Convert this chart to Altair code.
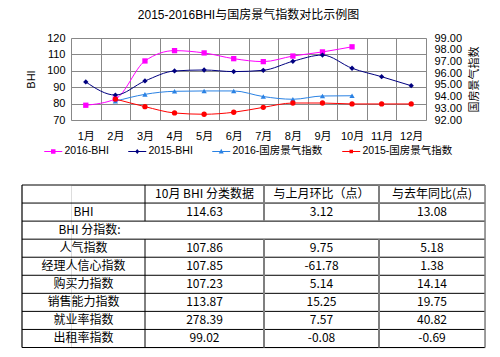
import altair as alt
import pandas as pd

# ---------------- data ----------------
months = ["1月", "2月", "3月", "4月", "5月", "6月", "7月", "8月", "9月", "10月", "11月", "12月"]
bhi_2016 = [79.0, 82.8, 106.0, 112.3, 110.9, 107.4, 105.6, 109.0, 111.51, 114.63, None, None]
bhi_2015 = [93.2, 85.2, 93.8, 99.9, 100.5, 99.5, 100.3, 105.8, 109.6, 101.55, 96.4, 90.9]
gf_2016 = [None, 93.60, 94.19, 94.45, 94.48, 94.48, 94.00, 93.77, 94.05, 94.07, None, None]
gf_2015 = [None, 93.79, 93.14, 92.60, 92.49, 92.66, 93.08, 93.45, 93.45, 93.37, 93.37, 93.37]

series_names = ["2016-BHI", "2015-BHI", "2016-国房景气指数", "2015-国房景气指数"]
series_colors = ["#FF00FF", "#000080", "#2A82E4", "#FF0000"]

left_ticks = [70, 80, 90, 100, 110, 120]
right_ticks = [92, 93, 94, 95, 96, 97, 98, 99]

tbl_header = ["", "10月 BHI 分类数据", "与上月环比（点）", "与去年同比(点)"]
tbl_section = "BHI 分指数:"
idx_names = ["BHI", "人气指数", "经理人信心指数", "购买力指数", "销售能力指数", "就业率指数", "出租率指数"]
oct_values = [114.63, 107.86, 107.85, 107.23, 113.87, 278.39, 99.02]
mom_change = [3.12, 9.75, -61.78, 5.14, 15.25, 7.57, -0.08]
yoy_change = [13.08, 5.18, 1.38, 14.14, 19.75, 40.82, -0.69]

# ---------------- styling / layout constants ----------------
LAT = "Liberation Sans, Noto Sans CJK SC, sans-serif"
CJK = "Noto Sans CJK SC, sans-serif"
GRID = "#888888"
PLOT_W, PLOT_H = 355, 82
TBL_W, TBL_H = 463, 162.5
TBL_LEFT = 49            # how far the table reaches left of the plot origin
COL_EDGES = [0, 123, 242, 357, 463]
N_ROWS = 9

rows = []
for name, vals, ax in [(series_names[0], bhi_2016, "L"), (series_names[1], bhi_2015, "L"),
                       (series_names[2], gf_2016, "R"), (series_names[3], gf_2015, "R")]:
    for m, v in zip(months, vals):
        if v is not None:
            rows.append({"month": m, "series": name, "value": v, "axis": ax})
df = pd.DataFrame(rows)

color_scale = alt.Scale(domain=series_names, range=series_colors)
marker_scale = alt.Scale(domain=series_names, range=["square", "diamond", "triangle-up", "circle"])
legend_paths = [
    "M-1.8,-0.1L1.8,-0.1L1.8,0.1L-1.8,0.1Z M-0.45,-0.45L0.45,-0.45L0.45,0.45L-0.45,0.45Z",
    "M-1.8,-0.1L1.8,-0.1L1.8,0.1L-1.8,0.1Z M0,-0.5L0.4,0L0,0.5L-0.4,0Z",
    "M-1.8,-0.1L1.8,-0.1L1.8,0.1L-1.8,0.1Z M0,-0.55L0.5,0.4L-0.5,0.4Z",
    "M-1.8,-0.1L1.8,-0.1L1.8,0.1L-1.8,0.1Z M-0.35,-0.35L0.35,-0.35L0.35,0.35L-0.35,0.35Z",
]

x_enc = alt.X(
    "month:N", sort=months, bandPosition=0.5,
    scale=alt.Scale(type="band", domain=months, paddingInner=0, paddingOuter=0),
    axis=alt.Axis(title=None, labelAngle=0, ticks=False, domain=False, grid=True,
                  tickBand="extent", gridColor=GRID, labelPadding=10, labelFontSize=11,
                  labelFont=LAT, labelColor="black"),
)
y_left = alt.Y(
    "value:Q", scale=alt.Scale(domain=[70, 120], nice=False, zero=False),
    axis=alt.Axis(title="BHI", orient="left", values=left_ticks, grid=True, gridColor=GRID,
                  ticks=False, domain=False, labelPadding=6, titlePadding=10,
                  labelFontSize=11, titleFontSize=11, labelFont=LAT, titleFont=LAT,
                  titleFontWeight="normal", labelColor="black", titleColor="black"),
)
y_right = alt.Y(
    "value:Q", scale=alt.Scale(domain=[92, 99], nice=False, zero=False),
    axis=alt.Axis(title="国房景气指数", orient="right", values=right_ticks, format=".2f",
                  grid=False, ticks=False, domain=False, labelPadding=8, titlePadding=7,
                  titleAngle=270, titleBaseline="top", labelFontSize=11, titleFontSize=11,
                  labelFont=LAT, titleFont=CJK, titleFontWeight="normal",
                  labelColor="black", titleColor="black"),
)

col_nolegend = alt.Color("series:N", scale=color_scale, legend=None)
shape_nolegend = alt.Shape("series:N", scale=marker_scale, legend=None)

base_l = alt.Chart(df).transform_filter(alt.datum.axis == "L")
base_r = alt.Chart(df).transform_filter(alt.datum.axis == "R")

left = alt.layer(
    base_l.mark_line(interpolate="monotone", strokeWidth=1).encode(x=x_enc, y=y_left, color=col_nolegend),
    base_l.mark_point(filled=True, size=28, opacity=1).encode(x=x_enc, y=y_left, color=col_nolegend, shape=shape_nolegend),
)
right = alt.layer(
    base_r.mark_line(interpolate="monotone", strokeWidth=1).encode(x=x_enc, y=y_right, color=col_nolegend),
    base_r.mark_point(filled=True, size=28, opacity=1).encode(x=x_enc, y=y_right, color=col_nolegend, shape=shape_nolegend),
)

leg = alt.Legend(orient="none", legendX=-23, legendY=108, direction="horizontal", title=None,
                 labelFontSize=10.5, labelFont=LAT, labelColor="black", symbolSize=100,
                 labelOffset=6, columnPadding=19, symbolStrokeWidth=0, symbolOpacity=1, padding=0)
legend_layer = alt.Chart(df).transform_filter("false").mark_point(filled=True, size=100, opacity=1).encode(
    color=alt.Color("series:N", scale=color_scale, legend=leg),
    shape=alt.Shape("series:N", scale=alt.Scale(domain=series_names, range=legend_paths), legend=leg),
)

top = alt.layer(left, right, legend_layer).resolve_scale(
    y="independent", color="independent", shape="independent"
).properties(
    width=PLOT_W, height=PLOT_H,
    title=alt.TitleParams("2015-2016BHI与国房景气指数对比示例图", fontSize=12, font=LAT,
                          fontWeight="normal", anchor="middle", offset=10, color="black"),
)

# ---------------- table ----------------
def mid(c):
    return (COL_EDGES[c] + COL_EDGES[c + 1]) / 2

def fmt(v):
    return f"{v:.2f}"

cells = []
for c, h in enumerate(tbl_header):
    if h:
        cells.append({"x": mid(c), "y": 0.5, "text": h})
cells += [{"x": mid(0), "y": 1.5, "text": idx_names[0]},
          {"x": mid(1), "y": 1.5, "text": fmt(oct_values[0])},
          {"x": mid(2), "y": 1.5, "text": fmt(mom_change[0])},
          {"x": mid(3), "y": 1.5, "text": fmt(yoy_change[0])},
          {"x": mid(0) + 6, "y": 2.5, "text": tbl_section}]
for i in range(1, len(idx_names)):
    r = i + 2.5
    cells += [{"x": mid(0), "y": r, "text": idx_names[i]},
              {"x": mid(1), "y": r, "text": fmt(oct_values[i])},
              {"x": mid(2), "y": r, "text": fmt(mom_change[i])},
              {"x": mid(3), "y": r, "text": fmt(yoy_change[i])}]
cells_df = pd.DataFrame(cells)

rules = []
for r in range(N_ROWS + 1):
    rules.append({"x": 0, "x2": TBL_W, "y": r, "y2": r, "stroke": "black", "sw": 1})
rules.append({"x": 0, "x2": 0, "y": 0, "y2": N_ROWS, "stroke": "black", "sw": 1.2})
rules.append({"x": TBL_W, "x2": TBL_W, "y": 0, "y2": N_ROWS, "stroke": "#7f7f7f", "sw": 1.5})
for e, col, w in [(COL_EDGES[1], "black", 1), (COL_EDGES[2], "#7f7f7f", 2), (COL_EDGES[3], "#7f7f7f", 2)]:
    rules.append({"x": e, "x2": e, "y": 0, "y2": 2, "stroke": col, "sw": w})
    rules.append({"x": e, "x2": e, "y": 3, "y2": N_ROWS, "stroke": col, "sw": w})
rules_df = pd.DataFrame(rules)

tx = alt.X("x:Q", scale=alt.Scale(domain=[0, TBL_W], range=[-TBL_LEFT, TBL_W - TBL_LEFT],
                                  nice=False, zero=False), axis=None)
ty = alt.Y("y:Q", scale=alt.Scale(domain=[0, N_ROWS], nice=False, zero=False, reverse=True), axis=None)

table = alt.layer(
    alt.Chart(rules_df).mark_rule().encode(
        x=tx, x2="x2:Q", y=ty, y2="y2:Q",
        color=alt.Color("stroke:N", scale=None),
        strokeWidth=alt.StrokeWidth("sw:Q", scale=None),
    ),
    alt.Chart(cells_df).mark_text(font=CJK, fontSize=12, color="black", baseline="middle", align="center").encode(
        x=tx, y=ty, text="text:N"
    ),
).properties(width=TBL_W - TBL_LEFT, height=TBL_H)

chart = alt.vconcat(top, table, spacing=25).properties(
    padding={"left": 12, "top": 0, "right": 5, "bottom": 0}
).configure_view(stroke=None).configure(font=LAT)

chart.save("out.html", embed_options={"renderer": "svg", "actions": False})
